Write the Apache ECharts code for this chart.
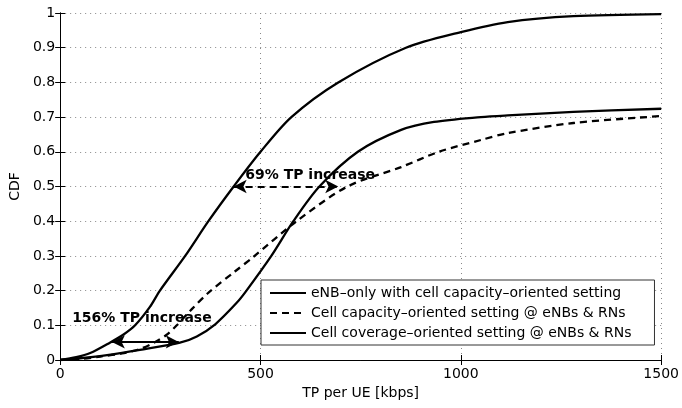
<!DOCTYPE html>
<html>
<head>
<meta charset="utf-8">
<style>html,body{margin:0;padding:0;background:#fff;}#chart{width:682px;height:408px;}</style>
<script src="https://cdn.jsdelivr.net/npm/echarts@6/dist/echarts.min.js"></script>
</head>
<body>
<div id="chart"></div>
<script>
// ---- data ----
const seriesNames = [
  'eNB\u2013only with cell capacity\u2013oriented setting',
  'Cell capacity\u2013oriented setting @ eNBs & RNs',
  'Cell coverage\u2013oriented setting @ eNBs & RNs'
];
const tpEnbOnly  = [0, 40, 75, 124, 160, 187, 224, 249, 312, 370, 433, 500, 577, 694, 863, 1000, 1117, 1281, 1500];
const cdfEnbOnly = [0, 0.008, 0.02, 0.05, 0.075, 0.1, 0.153, 0.2, 0.3, 0.4, 0.5, 0.6, 0.7, 0.8, 0.9, 0.945, 0.974, 0.991, 0.997];

const tpCapacity  = [0, 50, 100, 159, 200, 234, 265, 291, 328, 371, 436, 480, 590, 717, 851, 945, 1050, 1117, 1281, 1500];
const cdfCapacity = [0, 0.003, 0.01, 0.02, 0.032, 0.05, 0.072, 0.1, 0.146, 0.195, 0.255, 0.295, 0.4, 0.5, 0.556, 0.6, 0.634, 0.654, 0.683, 0.703];

const tpCoverage  = [0, 50, 117, 199, 299, 341, 387, 440, 465, 527, 582, 647, 743, 851, 933, 1050, 1117, 1281, 1500];
const cdfCoverage = [0, 0.005, 0.014, 0.029, 0.05, 0.068, 0.103, 0.164, 0.2, 0.3, 0.4, 0.5, 0.6, 0.663, 0.686, 0.70, 0.705, 0.715, 0.724];

const xTicks = [0, 500, 1000, 1500];
const yTickStep = 0.1;

const annot69Text = '69% TP increase';
const annot69From = [433, 0.5];
const annot69To = [694, 0.5];
const annot69TextAt = [624, 0.533];

const annot156Text = '156% TP increase';
const annot156From = [129, 0.052];
const annot156To = [296, 0.052];
const annot156TextAt = [204, 0.121];

const xLabel = 'TP per UE [kbps]';
const yLabel = 'CDF';

// ---- chart ----
const zip = (xs, ys) => xs.map((x, i) => [x, ys[i]]);
const FONT = 'DejaVu Sans, Liberation Sans, Arial, sans-serif';
const chart = echarts.init(document.getElementById('chart'), null, {renderer: 'canvas'});

const axisCommon = {
  axisLine: {show: true, lineStyle: {color: '#000', width: 1}},
  axisTick: {show: true, inside: true, length: 5, lineStyle: {color: '#000'}},
};

const option = {
  backgroundColor: '#fff',
  animation: false,
  grid: {left: 58, right: 20, top: 13, bottom: 48},
  xAxis: [
    Object.assign({
      type: 'value', min: xTicks[0], max: xTicks[xTicks.length - 1], interval: 500,
      name: xLabel, nameLocation: 'middle', nameGap: 26,
      nameTextStyle: {fontFamily: FONT, fontSize: 14, color: '#000'},
      axisLabel: {fontFamily: FONT, fontSize: 14, color: '#000', margin: 7,
        formatter: v => String(v)},
      splitLine: {show: true, lineStyle: {color: '#888', type: [1, 4], width: 1}},
    }, axisCommon),
    Object.assign({
      type: 'value', position: 'top', min: xTicks[0], max: xTicks[xTicks.length - 1], interval: 500,
      axisLabel: {show: false}, splitLine: {show: false}
    }, axisCommon)
  ],
  yAxis: [
    Object.assign({
      type: 'value', min: 0, max: 1, interval: yTickStep,
      name: yLabel, nameLocation: 'middle', nameGap: 38,
      nameTextStyle: {fontFamily: FONT, fontSize: 14, color: '#000'},
      axisLabel: {fontFamily: FONT, fontSize: 14, color: '#000', margin: 5,
        formatter: v => String(Math.round(v * 10) / 10)},
      splitLine: {show: true, lineStyle: {color: '#888', type: [1, 4], width: 1}},
    }, axisCommon),
    Object.assign({
      type: 'value', position: 'right', min: 0, max: 1, interval: yTickStep,
      axisLabel: {show: false}, splitLine: {show: false}
    }, axisCommon)
  ],
  legend: {
    orient: 'vertical',
    left: 261, top: 280,
    padding: [6, 23, 5, 8],
    itemGap: 6,
    itemWidth: 36, itemHeight: 16,
    backgroundColor: '#fff',
    borderColor: '#333', borderWidth: 1,
    itemStyle: {opacity: 0},
    textStyle: {fontFamily: FONT, fontSize: 14, color: '#000'},
    data: seriesNames
  },
  series: [
    {
      name: seriesNames[0], type: 'line', smooth: 0.3, showSymbol: false, symbol: 'none',
      data: zip(tpEnbOnly, cdfEnbOnly),
      lineStyle: {color: '#000', width: 2.3}, itemStyle: {color: '#000'},
      z: 3
    },
    {
      name: seriesNames[1], type: 'line', smooth: 0.3, showSymbol: false, symbol: 'none',
      data: zip(tpCapacity, cdfCapacity),
      lineStyle: {color: '#000', width: 2.3, type: [7, 5]}, itemStyle: {color: '#000'},
      z: 3
    },
    {
      name: seriesNames[2], type: 'line', smooth: 0.3, showSymbol: false, symbol: 'none',
      data: zip(tpCoverage, cdfCoverage),
      lineStyle: {color: '#000', width: 2.3}, itemStyle: {color: '#000'},
      z: 3,
      markLine: {
        silent: true, symbol: ['arrow', 'arrow'], symbolSize: [10, 13],
        label: {show: false},
        data: [
          [{coord: annot69From, lineStyle: {type: [7, 5], color: '#000', width: 2}},
           {coord: annot69To}],
          [{coord: annot156From, lineStyle: {type: 'solid', color: '#000', width: 2}},
           {coord: annot156To}]
        ]
      },
      markPoint: {
        silent: true, symbol: 'circle', symbolSize: 0,
        label: {show: true, position: 'inside', color: '#000', fontFamily: FONT,
          fontSize: 14, fontWeight: 'bold'},
        data: [
          {coord: annot69TextAt, label: {formatter: annot69Text}},
          {coord: annot156TextAt, label: {formatter: annot156Text}}
        ]
      }
    }
  ]
};
chart.setOption(option);
</script>
</body>
</html>
